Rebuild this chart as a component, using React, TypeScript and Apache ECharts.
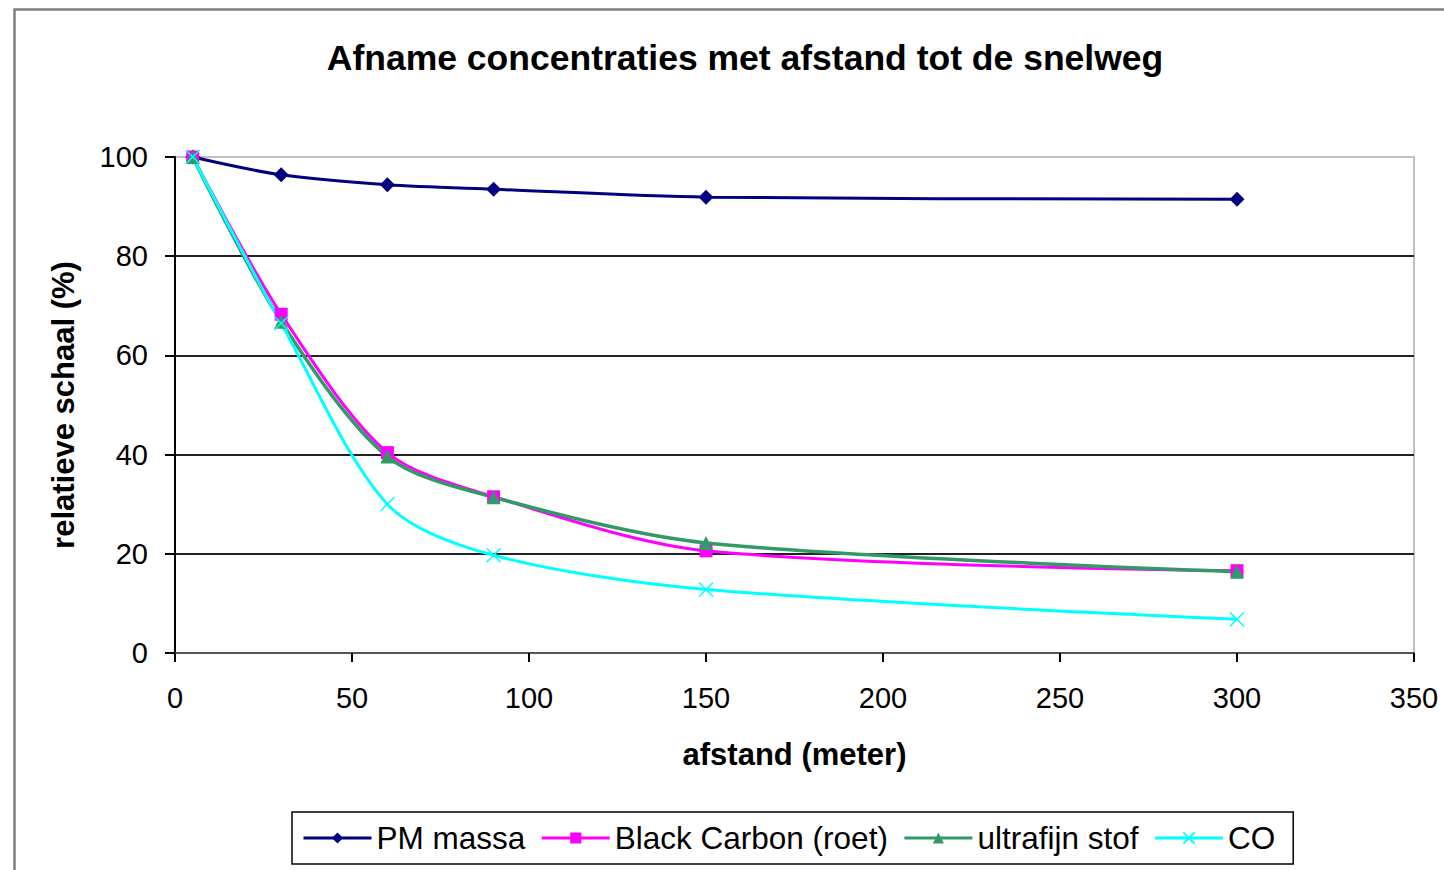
import React, { useEffect, useRef } from "react";
import * as echarts from "echarts";

const distances = [5, 30, 60, 90, 150, 300];
const pmMassa = [100, 96.4, 94.4, 93.5, 91.9, 91.5];
const blackCarbon = [100, 68.3, 40.4, 31.5, 20.6, 16.6];
const ultrafijnStof = [100, 66.8, 39.6, 31.4, 22.2, 16.4];
const coValues = [100, 66.5, 30.0, 19.7, 12.8, 6.8];

const seriesNames = ["PM massa", "Black Carbon (roet)", "ultrafijn stof", "CO"];
const titleText = "Afname concentraties met afstand tot de snelweg";
const xTitle = "afstand (meter)";
const yTitle = "relatieve schaal (%)";

const FONT = "Arial, 'Liberation Sans', sans-serif";

function pairs(vals: number[]) {
  return distances.map((d, i) => [d, vals[i]]);
}

export default function App() {
  const ref = useRef<HTMLDivElement>(null);
  useEffect(() => {
    if (!ref.current) return;
    const chart = echarts.init(ref.current, undefined, { renderer: "svg" });
    const common = { type: "line" as const, smooth: 0.3 };
    chart.setOption({
      animation: false,
      backgroundColor: "#ffffff",
      title: {
        text: titleText,
        left: 740,
        top: 35,
        textAlign: "center",
        textStyle: { fontFamily: FONT, fontSize: 35.5, fontWeight: "bold", color: "#000" },
      },
      grid: {
        left: 175,
        right: 30,
        top: 157,
        bottom: 217,
        show: true,
        borderColor: "#c0c0c0",
        borderWidth: 2,
      },
      xAxis: {
        type: "value",
        min: 0,
        max: 350,
        interval: 50,
        name: xTitle,
        nameLocation: "middle",
        nameGap: 86,
        nameTextStyle: { fontFamily: FONT, fontSize: 31, fontWeight: "bold", color: "#000" },
        axisLine: { show: true, lineStyle: { color: "#555", width: 2 } },
        axisTick: { show: true, length: 9, lineStyle: { color: "#000", width: 2 } },
        axisLabel: { margin: 30, fontFamily: FONT, fontSize: 29, color: "#000" },
        splitLine: { show: false },
      },
      yAxis: {
        type: "value",
        min: 0,
        max: 100,
        interval: 20,
        name: yTitle,
        nameLocation: "middle",
        nameGap: 96,
        nameRotate: 90,
        nameTextStyle: { fontFamily: FONT, fontSize: 31, fontWeight: "bold", color: "#000" },
        axisLine: { show: true, lineStyle: { color: "#000", width: 2 } },
        axisTick: { show: true, length: 10, lineStyle: { color: "#000", width: 2 } },
        axisLabel: { margin: 27, fontFamily: FONT, fontSize: 29, color: "#000" },
        splitLine: {
          show: true,
          lineStyle: {
            color: ["#555", "#222", "#222", "#222", "#222", "#c0c0c0"],
            width: 2,
          },
        },
      },
      legend: {
        left: 292,
        top: 812,
        orient: "horizontal",
        itemWidth: 68,
        itemHeight: 14,
        itemGap: 15,
        padding: [10, 18, 10, 10],
        borderColor: "#000",
        borderWidth: 1.5,
        lineStyle: { width: 3 },
        textStyle: { fontFamily: FONT, fontSize: 31.5, color: "#000" },
        data: seriesNames,
      },
      series: [
        {
          ...common,
          name: seriesNames[0],
          data: pairs(pmMassa),
          symbol: "diamond",
          symbolSize: 15,
          color: "#000080",
          lineStyle: { color: "#000080", width: 3 },
          itemStyle: { color: "#000080" },
        },
        {
          ...common,
          name: seriesNames[1],
          data: pairs(blackCarbon),
          symbol: "rect",
          symbolSize: 13,
          color: "#ff00ff",
          lineStyle: { color: "#ff00ff", width: 3 },
          itemStyle: { color: "#ff00ff" },
        },
        {
          ...common,
          name: seriesNames[2],
          data: pairs(ultrafijnStof),
          symbol: "triangle",
          symbolSize: 14,
          color: "#339966",
          lineStyle: { color: "#339966", width: 3.5 },
          itemStyle: { color: "#339966" },
        },
        {
          ...common,
          name: seriesNames[3],
          data: pairs(coValues),
          symbol: "path://M0,0L10,10M10,0L0,10",
          symbolSize: 14,
          color: "#00ffff",
          lineStyle: { color: "#00ffff", width: 3 },
          itemStyle: { color: "#00ffff", borderColor: "#00ffff", borderWidth: 1.5 },
        },
      ],
      graphic: [
        {
          type: "rect",
          left: 12,
          top: 7,
          shape: { x: 0, y: 0, width: 1500, height: 900 },
          style: { fill: "none", stroke: "#808080", lineWidth: 2.5 },
          silent: true,
        },
      ],
    });
    return () => chart.dispose();
  }, []);
  return (
    <div
      ref={ref}
      style={{ position: "fixed", left: 0, top: 0, width: 1444, height: 870, background: "#fff" }}
    />
  );
}
